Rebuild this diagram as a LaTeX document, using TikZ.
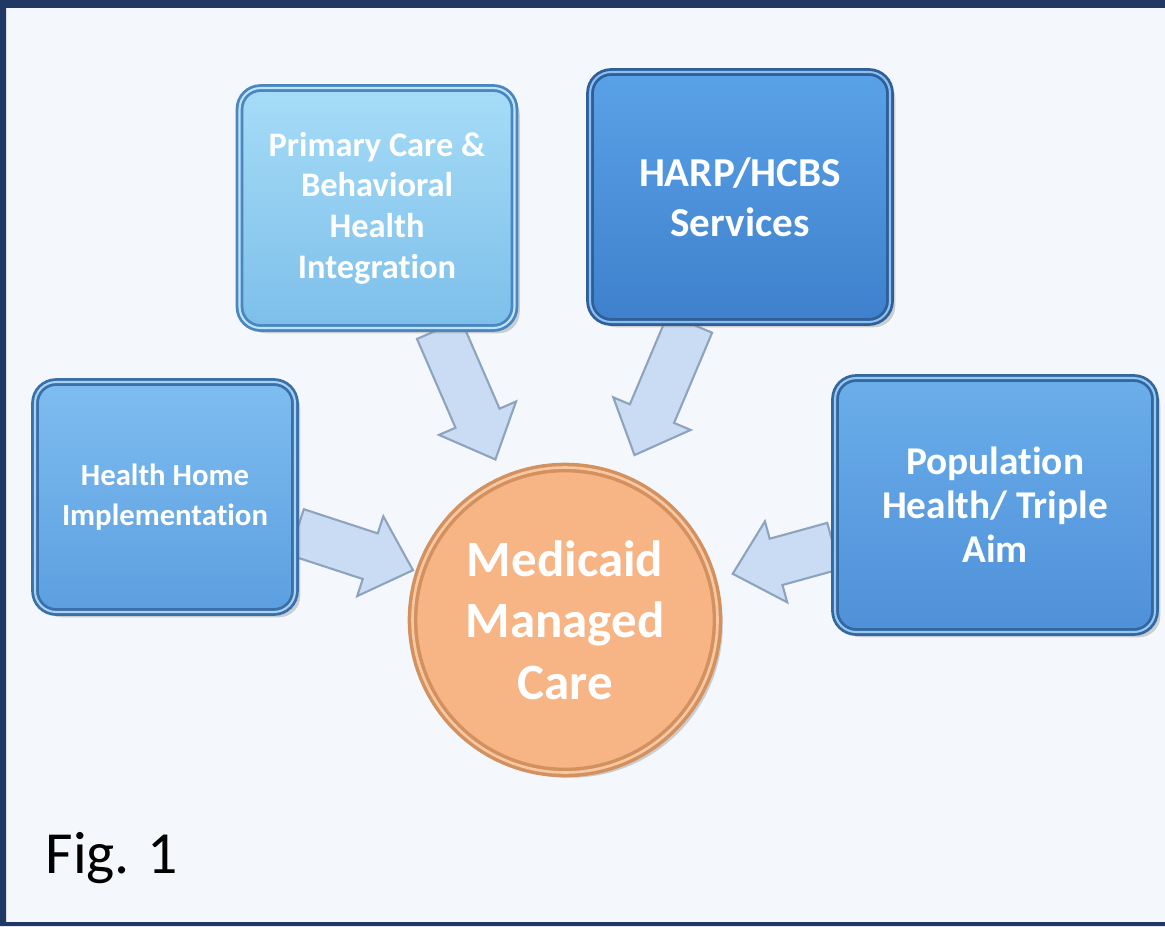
\documentclass[tikz,border=0pt]{standalone}
\usepackage{fontspec}
\setmainfont{Carlito}[Ligatures=NoCommon]
\usetikzlibrary{calc,positioning,shadows}
\pgfdeclarelayer{back}
\pgfdeclarelayer{arrows}
\pgfsetlayers{back,arrows,main}
\definecolor{frameblue}{HTML}{1F3864}
\definecolor{paper}{HTML}{F4F8FC}
\definecolor{arrowfill}{HTML}{C9DCF3}
\definecolor{arrowedge}{HTML}{8DA3BE}
\definecolor{mmcfill}{HTML}{F7B485}
\definecolor{mmcedge}{HTML}{D3915F}
%% block arrow from tail #1 to tip #2
\newcommand{\blockarrow}[2]{%
	\coordinate (ab) at ($(#2)!0.9cm!(#1)$);
	\draw[blockarrow]
	($(#1)!0.48cm!90:(#2)$) -- ($(ab)!0.48cm!-90:(#1)$) -- ($(ab)!0.84cm!-90:(#1)$)
	-- (#2) -- ($(ab)!0.84cm!90:(#1)$) -- ($(ab)!0.48cm!90:(#1)$)
	-- ($(#1)!0.48cm!-90:(#2)$) -- cycle;
}
\begin{document}
\begin{tikzpicture}[x=0.02cm, y=-0.02cm, line join=round,
	box/.style={rectangle, rounded corners=12pt, align=center, text=white,
		font=\bfseries, line width=1.6pt, double distance=1.2pt,
		drop shadow={shadow xshift=3pt, shadow yshift=-3pt, opacity=0.35}},
	blockarrow/.style={fill=arrowfill, draw=arrowedge, line width=1.2pt}]
	%%Nền và khung
	\begin{pgfonlayer}{back}
	\fill[paper] (0,0) rectangle (1165,926);
	\fill[frameblue] (0,0) rectangle (1165,8) (0,0) rectangle (6,926) (0,922) rectangle (1165,926);
	\end{pgfonlayer}
	%%Các ô
	\node[box, minimum width=5.5cm, minimum height=4.8cm, top color={rgb,255:red,166;green,220;blue,247},
		bottom color={rgb,255:red,125;green,191;blue,234}, draw={rgb,255:red,74;green,134;blue,192},
		double={rgb,255:red,190;green,228;blue,250},
		font=\bfseries\fontsize{19.6}{23.2}\selectfont] (pcbh) at (377,208)
		{Primary Care \&\\Behavioral\\Health\\Integration};
	\node[box, minimum width=6cm, minimum height=5cm, top color={rgb,255:red,90;green,162;blue,232},
		bottom color={rgb,255:red,62;green,128;blue,204}, draw={rgb,255:red,47;green,95;blue,153},
		double={rgb,255:red,140;green,190;blue,240},
		font=\bfseries\fontsize{23.4}{28.3}\selectfont] (harp) at (740,197)
		{HARP/HCBS\\Services};
	\node[box, minimum width=5.2cm, minimum height=4.6cm, top color={rgb,255:red,126;green,189;blue,240},
		bottom color={rgb,255:red,92;green,159;blue,224}, draw={rgb,255:red,58;green,111;blue,168},
		double={rgb,255:red,165;green,210;blue,245},
		font=\bfseries\fontsize{17.5}{22.7}\selectfont] (hhi) at (165,497)
		{Health Home\\Implementation};
	\node[box, minimum width=6.4cm, minimum height=5.08cm, top color={rgb,255:red,106;green,174;blue,234},
		bottom color={rgb,255:red,79;green,144;blue,216}, draw={rgb,255:red,51;green,103;blue,159},
		double={rgb,255:red,150;green,200;blue,242},
		font=\bfseries\fontsize{22.4}{25}\selectfont] (pht) at (995,505)
		{Population\\Health/ Triple\\Aim};
	\node[circle, minimum size=6.1cm, fill=mmcfill, draw=mmcedge, line width=2pt,
		double={rgb,255:red,250;green,200;blue,160}, double distance=1.5pt, align=center, text=white,
		drop shadow={shadow xshift=3pt, shadow yshift=-3pt, opacity=0.35},
		font=\bfseries\fontsize{29}{35}\selectfont] (mmc) at (565,620)
		{Medicaid\\Managed\\Care};
	\node[font=\fontsize{34}{40}\selectfont] (fig) at (112,858) {Fig. 1};
	%%Mũi tên
	\begin{pgfonlayer}{arrows}
	\coordinate (hhit) at ($(hhi.east)+(0,35)$);
	\coordinate (pcbht) at ($(pcbh.south)+(62,0)$);
	\coordinate (harpt) at ($(harp.south)+(-50,0)$);
	\coordinate (phtt) at ($(pht.west)+(0,41)$);
	\coordinate (hhip) at ($(mmc.center)!3.2cm!(hhit)$);
	\coordinate (pcbhp) at ($(mmc.center)!3.5cm!(pcbht)$);
	\coordinate (harpp) at ($(mmc.center)!3.58cm!(harpt)$);
	\coordinate (phtp) at ($(mmc.center)!3.48cm!(phtt)$);
	\blockarrow{hhit}{hhip}
	\blockarrow{pcbht}{pcbhp}
	\blockarrow{harpt}{harpp}
	\blockarrow{phtt}{phtp}
	\end{pgfonlayer}
\end{tikzpicture}
\end{document}
